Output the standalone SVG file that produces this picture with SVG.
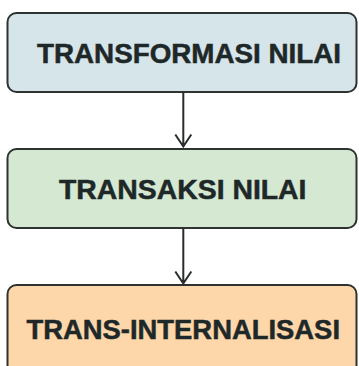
<svg xmlns="http://www.w3.org/2000/svg" width="359" height="366" viewBox="0 0 359 366">
<style>
.box{stroke:#2e3231;stroke-width:2}
.lbl{font-family:"Liberation Sans",Arial,sans-serif;font-weight:bold;fill:#1f2828;stroke:#1f2828;stroke-width:0.5;font-size:27px}
.conn{stroke:#2a2d2c;stroke-width:2;fill:none}
</style>
<rect width="359" height="366" fill="#ffffff"/>
<g id="node-transformasi">
<rect class="box" x="7.5" y="13" width="349" height="79" rx="9" fill="#d6e5ea"/>
<text class="lbl" x="37" y="62.5" textLength="304" lengthAdjust="spacingAndGlyphs">TRANSFORMASI NILAI</text>
</g>
<g id="node-transaksi">
<rect class="box" x="7.5" y="149" width="349" height="79" rx="9" fill="#d5e8d2"/>
<text class="lbl" x="59" y="198.5" textLength="247.5" lengthAdjust="spacingAndGlyphs">TRANSAKSI NILAI</text>
</g>
<g id="node-internalisasi">
<rect class="box" x="7.5" y="285" width="349" height="95" rx="9" fill="#fdd7aa"/>
<text class="lbl" x="26.5" y="338.5" textLength="313.5" lengthAdjust="spacingAndGlyphs">TRANS-INTERNALISASI</text>
</g>
<g id="connectors">
<path class="conn" d="M183.3 92 V146.5 M175.3 134.5 L183.3 146.5 L191.3 134.5"/>
<path class="conn" d="M183.3 228 V283.5 M175.3 271.5 L183.3 283.5 L191.3 271.5"/>
</g>
</svg>
